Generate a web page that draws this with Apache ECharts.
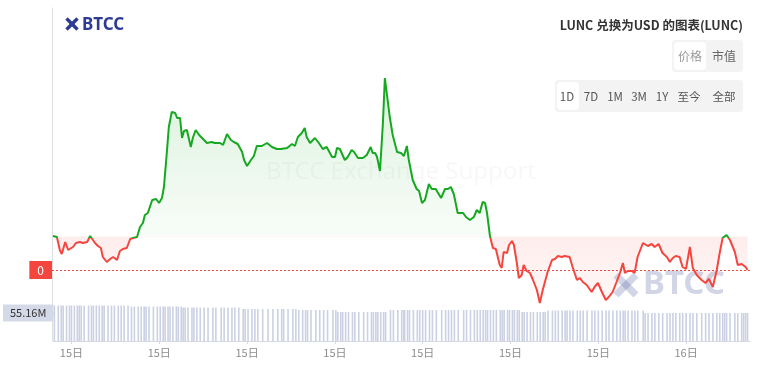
<!DOCTYPE html>
<html><head><meta charset="utf-8">
<script src="https://cdn.jsdelivr.net/npm/echarts@6.0.0/dist/echarts.min.js"></script>
<style>html,body{margin:0;padding:0;background:#fff}#c{width:766px;height:369px}</style>
</head><body><div id="c"></div>
<script>
// minutes after 00:00 of the 15th
const times = [145,153,159,163,170,176,180,186,192,196,
200,206,215,221,225,231,237,243,247,255,
262,268,276,282,288,296,303,309,317,323,
329,333,339,348,356,362,368,372,378,382,
388,395,399,405,409,413,419,427,431,437,
444,452,460,470,476,487,493,501,509,515,
523,532,536,542,550,556,562,572,583,593,
603,611,615,624,634,640,646,654,660,664,
671,681,689,697,705,716,722,726,732,736,
742,748,756,761,769,779,787,795,799,804,
808,814,820,824,834,840,849,857,861,863,
869,873,881,889,894,900,906,914,920,928,
939,947,953,959,965,973,984,990,998,1006,
1012,1018,1024,1029,1033,1039,1045,1051,1059,1063,
1067,1074,1078,1084,1088,1094,1098,1104,1108,1114,
1121,1127,1135,1141,1147,1151,1157,1166,1172,1178,
1186,1192,1196,1202,1208,1217,1223,1229,1237,1247,
1253,1260,1268,1276,1282,1290,1298,1305,1311,1315,
1321,1329,1335,1341,1352,1356,1362,1370,1376,1384,
1392,1401,1407,1413,1419,1427,1433,1440,1448,1454,
1462,1472,1480,1487,1495,1503,1509,1515,1519,1523,
1530,1540,1546,1554,1558,1562,1566];
// price, x1e-7 USD
const prices = [164,163,150,146,158,150,149,153,157,155,
158,157,158,164,163,157,154,152,143,138,
141,143,140,149,151,152,161,162,163,173,
177,185,187,200,201,197,202,213,248,273,
288,287,282,282,262,269,270,253,262,270,
265,261,257,258,257,257,255,266,260,258,
256,248,240,234,240,244,254,254,257,253,
251,251,249,252,256,254,263,267,272,263,
257,262,257,251,253,243,243,252,251,253,
240,243,250,248,242,242,245,253,247,247,
243,229,277,322,283,265,248,247,248,244,
254,240,220,211,209,197,200,216,211,211,
202,211,211,213,206,187,187,183,180,183,
190,187,198,197,187,164,152,151,135,132,
148,147,155,159,155,137,122,125,135,129,
127,120,110,97,110,108,128,140,141,144,
143,144,142,143,133,120,122,118,115,108,
113,117,108,100,103,108,118,127,137,127,
129,129,127,143,157,158,154,156,153,156,
147,143,138,142,144,143,133,131,153,132,
125,120,117,121,113,130,147,162,163,165,
160,148,135,136,137,133,130];
// volume, millions
const volumes = [70,70,70,70,70,70,70,70,70,70,
70,70,70,70,70,70,70,70,70,70,
70,70,70,70,70,70,
68,68,68,68,68,68,68,68,68,68,68,68,68,68,68,68,68,68,
66,66,66,66,66,66,66,66,66,66,66,66,66,66,66,66,66,
63,63,63,63,63,63,63,63,63,63,63,63,63,63,63,
61,61,61,61,61,61,61,61,61,61,61,
57,57,57,57,57,57,57,57,57,57,57,57,57,57,57,57,57,
61,61,61,61,61,61,61,61,61,61,61,61,61,61,61,61,61,61,61,61,
61,61,61,61,61,61,61,61,61,61,61,61,61,61,61,61,61,61,61,61,
61,61,61,
57,57,57,57,57,57,57,57,57,
60,60,60,60,60,60,60,60,60,60,60,60,60,60,60,60,60,60,60,60,
60,60,60,60,60,60,60,60,60,
55.2,55.2,55.2,55.2,55.2,55.2,55.2,55.2,55.2,55.2,55.2,55.2,55.2,55.2,55.2,55.2,
55.2,55.2,55.2,55.2,55.2,55.2,55.2,55.2,55.2,55.2,55.2,55.2,55.2,55.2,55.2,55.16];
const xTickMinutes = [180,360,540,720,900,1080,1260,1440];
const xTickLabels = ['15日','15日','15日','15日','15日','15日','15日','16日'];
const openPrice = 163.5;
const lastPriceLabel = '0';
const lastVolumeLabel = '55.16M';
const titleText = 'LUNC 兑换为USD 的图表(LUNC)';
const modeButtons = ['价格','市值'];
const rangeButtons = ['1D','7D','1M','3M','1Y','至今','全部'];

const FONT = "'Noto Sans CJK SC','Noto Sans',sans-serif";
const GREEN = '#15a820', RED = '#f4463e';
const chart = echarts.init(document.getElementById('c'));
const priceData = times.map((t, i) => [t, prices[i]]);
const volData = times.map((t, i) => [t, volumes[i]]);
const pMax = Math.max(...prices), pMin = Math.min(...prices);
const split = (pMax - openPrice) / (pMax - pMin);
const lastPrice = prices[prices.length - 1];
const lastVol = volumes[volumes.length - 1];

function xIcon(cx, cy, h, w, color) {
  return [
    {type:'line', shape:{x1:cx-h,y1:cy-h,x2:cx+h,y2:cy+h}, style:{stroke:color,lineWidth:w}, z:0},
    {type:'line', shape:{x1:cx-h,y1:cy+h,x2:cx+h,y2:cy-h}, style:{stroke:color,lineWidth:w}, z:0}
  ];
}
const rangeX = [567,591,615,639,662,689,724];
const graphics = [
  {type:'text', x:401, y:172, z:0, style:{text:'BTCC Exchange Support', fill:'rgba(0,0,0,0.03)', font:"24px 'Noto Sans',sans-serif", align:'center', verticalAlign:'middle'}},
  ...xIcon(626, 285, 10, 7, 'rgba(90,105,165,0.28)'),
  {type:'text', x:643, y:285, z:0, style:{text:'BTCC', fill:'rgba(90,105,165,0.28)', font:"bold 33px 'Noto Sans',sans-serif", align:'left', verticalAlign:'middle'}},
  ...xIcon(72, 24, 5.5, 3.4, '#2d3b94'),
  {type:'text', x:82, y:25, style:{text:'BTCC', fill:'#2d3b94', font:"bold 17px 'Noto Sans',sans-serif", align:'left', verticalAlign:'middle'}},
  {type:'text', x:743, y:25, style:{text:titleText, fill:'#333', font:"bold 12.5px " + FONT, align:'right', verticalAlign:'middle'}},
  {type:'rect', shape:{x:672,y:40,width:71,height:32,r:4}, style:{fill:'#f3f3f4'}},
  {type:'rect', shape:{x:674,y:42,width:32,height:28,r:4}, style:{fill:'#ffffff'}},
  {type:'text', x:690, y:56, style:{text:modeButtons[0], fill:'#999', font:"12px " + FONT, align:'center', verticalAlign:'middle'}},
  {type:'text', x:724, y:56, style:{text:modeButtons[1], fill:'#666', font:"12px " + FONT, align:'center', verticalAlign:'middle'}},
  {type:'rect', shape:{x:555,y:80,width:188,height:32,r:4}, style:{fill:'#f3f3f4'}},
  {type:'rect', shape:{x:557,y:82,width:22,height:28,r:4}, style:{fill:'#ffffff'}},
  ...rangeButtons.map((t, i) => ({type:'text', x:rangeX[i], y:97, style:{text:t, fill:'#555', font:"11.5px " + FONT, align:'center', verticalAlign:'middle'}}))
];

const lineGradient = new echarts.graphic.LinearGradient(0,0,0,1,[
  {offset:0, color:GREEN}, {offset:split, color:GREEN},
  {offset:split, color:RED}, {offset:1, color:RED}
]);
const areaGradient = new echarts.graphic.LinearGradient(0,0,0,1,[
  {offset:0, color:'rgba(21,168,32,0.22)'},
  {offset:split, color:'rgba(21,168,32,0.04)'},
  {offset:split, color:'rgba(244,70,62,0.14)'},
  {offset:1, color:'rgba(244,70,62,0.05)'}
]);

chart.setOption({
  animation: false,
  textStyle: {fontFamily: FONT},
  grid: [
    {left:52, right:16, top:8, bottom:28},
    {left:52, right:16, top:300, bottom:28}
  ],
  xAxis: [
    {type:'value', gridIndex:0, min:143, max:1571, axisLine:{show:false}, axisTick:{show:false}, axisLabel:{show:false}, splitLine:{show:false}},
    {type:'value', gridIndex:1, min:143, max:1571,
     axisLine:{show:true, lineStyle:{color:'#d5d9e6'}},
     axisTick:{show:true, customValues:xTickMinutes, length:3, lineStyle:{color:'#d5d9e6'}},
     axisLabel:{customValues:xTickMinutes, formatter:v => xTickLabels[xTickMinutes.indexOf(v)], color:'#8c8c8c', fontSize:11, margin:6},
     splitLine:{show:false}}
  ],
  yAxis: [
    {type:'value', gridIndex:0, min:59, max:392,
     axisLine:{show:true, lineStyle:{color:'#dedede'}},
     axisTick:{show:true, customValues:[lastPrice], length:3, lineStyle:{color:'#666'}},
     axisLabel:{customValues:[lastPrice], formatter:() => lastPriceLabel, color:'#fff', backgroundColor:RED, padding:[3,8,3,8], margin:0, fontSize:12},
     splitLine:{show:false}},
    {type:'value', gridIndex:1, min:0, max:80.8,
     axisLine:{show:false},
     axisTick:{show:true, customValues:[lastVol], length:3, lineStyle:{color:'#666'}},
     axisLabel:{customValues:[lastVol], formatter:() => lastVolumeLabel, color:'#333', backgroundColor:'#d3d9e6', padding:[3,7,3,7], margin:0, fontSize:11},
     splitLine:{show:false}}
  ],
  graphic: graphics,
  series: [
    {type:'line', data:priceData, xAxisIndex:0, yAxisIndex:0, symbol:'none', showSymbol:false, z:3,
     lineStyle:{width:2, color:lineGradient},
     itemStyle:{color:GREEN},
     areaStyle:{origin:openPrice, color:areaGradient},
     markLine:{symbol:['none','none'], silent:true, label:{show:false},
       lineStyle:{color:RED, type:[2,2], width:1}, data:[{yAxis:lastPrice}]}},
    {type:'bar', data:volData, xAxisIndex:1, yAxisIndex:1, barWidth:1.6, z:1, itemStyle:{color:'#cbd1e3'}}
  ]
});
</script>
</body></html>
